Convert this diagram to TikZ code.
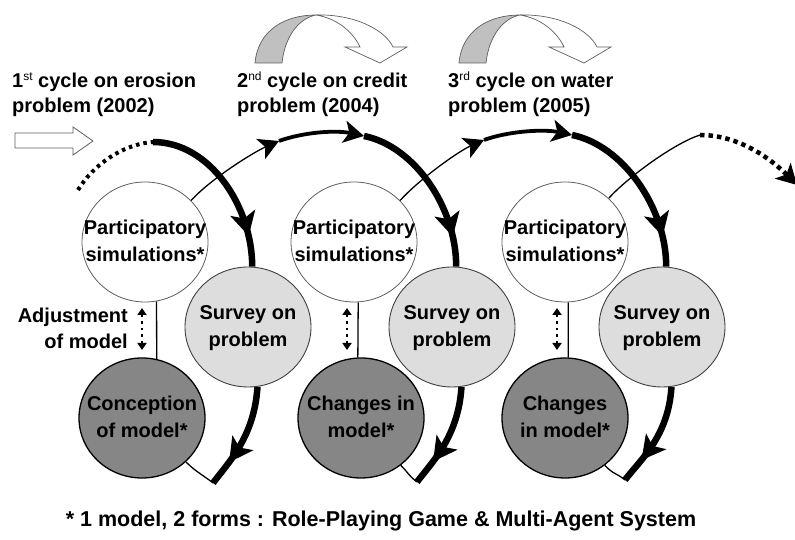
\documentclass[tikz,border=0pt]{standalone}
\usepackage{fontspec}
\setmainfont{Liberation Sans}
\usetikzlibrary{shapes.geometric,arrows.meta,decorations.markings}
\pgfdeclarelayer{bg}
\pgfsetlayers{bg,main}
\definecolor{survfill}{RGB}{221,221,221}
\definecolor{concfill}{RGB}{134,134,134}
\definecolor{curvgray}{RGB}{192,192,192}
\definecolor{edgegray}{RGB}{95,95,95}
\newcommand\cyctext[4]{%
  \node[lbl,anchor=base] (#1a) at ([yshift=7pt]#2) {#3};
  \node[lbl,anchor=base] (#1b) at ([yshift=-20pt]#2) {#4};}
\newcommand\curvarrow[1]{%
  \begin{scope}[xshift=#1]
  \fill[curvgray,draw=edgegray,line width=0.7pt] (255,477) .. controls (258,510) and (285,525) .. (316,525)
     .. controls (300,522) and (285,505) .. (282,477) -- cycle;
  \filldraw[fill=white,draw=edgegray,line width=0.7pt] (316,525) .. controls (355,526) and (385,510) .. (393,493)
     -- (407,493) -- (380,477) -- (345,493) -- (360,493) .. controls (352,510) and (335,522) .. (316,525) -- cycle;
  \end{scope}}
\tikzset{
  lbl/.style={font=\bfseries\fontsize{20}{25}\selectfont,inner sep=0pt},
  circ/.style={ellipse,minimum width=126pt,minimum height=120pt,inner sep=0pt},
  part/.style={circ,draw=edgegray,line width=0.8pt,fill=white},
  surv/.style={circ,draw=black!75,line width=0.9pt,fill=survfill},
  conc/.style={circ,draw=black,line width=1.3pt,fill=concfill},
  thinline/.style={line width=1.3pt},
  midline/.style={line width=3.8pt},
  thickline/.style={line width=6.5pt},
  mk/.style={postaction={decorate,decoration={markings,
      mark=at position #1 with {\fill (4pt,0) -- (-20pt,13pt) -- (-14pt,0) -- (-20pt,-13pt) -- cycle;}}}},
  endtip/.style={-{Stealth[length=20pt 0,width=22pt 0,inset=5pt 0]}},
  dotline/.style={line width=4pt,dash pattern=on 3.5pt off 4pt},
  dbl/.style={line width=2.6pt,dash pattern=on 2.6pt off 4pt,
      arrows={Triangle[width=9pt 0,length=7pt 0]-Triangle[width=9pt 0,length=7pt 0]}},
}
\begin{document}
\begin{tikzpicture}[x=1pt,y=1pt]
\useasboundingbox (0,0) rectangle (795,540);
% circles
\node[part] (P1) at (145,298) {};
\node[part] (P2) at (354,298) {};
\node[part] (P3) at (565,298) {};
\node[surv] (S1) at (248,213) {};
\node[surv] (S2) at (452,213) {};
\node[surv] (S3) at (662,213) {};
\node[conc] (C1) at (142,122) {};
\node[conc] (C2) at (361,122) {};
\node[conc] (C3) at (565,122) {};
\cyctext{P1t}{P1}{Participatory}{simulations*}
\cyctext{P2t}{P2}{Participatory}{simulations*}
\cyctext{P3t}{P3}{Participatory}{simulations*}
\cyctext{S1t}{S1}{Survey on}{problem}
\cyctext{S2t}{S2}{Survey on}{problem}
\cyctext{S3t}{S3}{Survey on}{problem}
\cyctext{C1t}{C1}{Conception}{of model*}
\cyctext{C2t}{C2}{Changes in}{model*}
\cyctext{C3t}{C3}{Changes}{in model*}
% coordinates
\coordinate (L0) at (78,350);
\coordinate (T1) at (153,398);
\coordinate (A2) at (279,399);
\coordinate (T2) at (364,404);
\coordinate (A3) at (484,400);
\coordinate (T3) at (572,405);
\coordinate (D4) at (700,405);
\coordinate (E4) at (797,355);
\coordinate (B1) at (213,57);
\coordinate (B2) at (417,58);
\coordinate (B3) at (625,60);
\coordinate (u1) at (142,232); \coordinate (d1) at (142,190);
\coordinate (u2) at (347,232); \coordinate (d2) at (347,190);
\coordinate (u3) at (557,232); \coordinate (d3) at (557,190);
\begin{pgfonlayer}{bg}
% cycle 1
\draw[dotline] (L0) .. controls +(15,25) and +(-30,-2) .. (T1);
\draw[thickline,mk=0.8] (T1) .. controls +(57,0) and +(0,60) .. (S1.86);
\draw[thickline,mk=0.72] (S1.-81) .. controls +(-3,-50) and +(15,20) .. (B1);
\draw[thinline] (B1) .. controls +(-10,8) and +(10,-10) .. (C1.-45);
\draw[thinline] (C1.76) -- (P1.-79);
% cycle 2
\draw[thinline,endtip] (P1.42) .. controls +(20,22) and +(-25,-11) .. (A2);
\draw[midline,endtip] (A2) .. controls +(25,9) and +(-28,6) .. (T2);
\draw[thickline,mk=0.8] (T2) .. controls +(50,-10) and +(0,60) .. (S2.86);
\draw[thickline,mk=0.72] (S2.-81) .. controls +(-3,-50) and +(15,20) .. (B2);
\draw[thinline] (B2) .. controls +(-10,8) and +(10,-10) .. (C2.-50);
\draw[thinline] (C2.93) -- (P2.-86);
% cycle 3
\draw[thinline,endtip] (P2.42) .. controls +(20,22) and +(-25,-11) .. (A3);
\draw[midline,endtip] (A3) .. controls +(25,9) and +(-28,6) .. (T3);
\draw[thickline,mk=0.8] (T3) .. controls +(50,-10) and +(0,60) .. (S3.86);
\draw[thickline,mk=0.72] (S3.-81) .. controls +(-3,-50) and +(15,20) .. (B3);
\draw[thinline] (B3) .. controls +(-10,8) and +(10,-10) .. (C3.-50);
\draw[thinline] (C3.87) -- (P3.-87);
% cycle 4 (start)
\draw[thinline] (P3.45) .. controls +(20,22) and +(-25,-8) .. (D4);
\draw[dotline,line width=4.5pt,dash pattern=on 4.5pt off 4pt,endtip] (D4) .. controls +(40,0) and +(-25,25) .. (E4);
\end{pgfonlayer}
% adjustment arrows
\draw[dbl] (d1) -- (u1);
\draw[dbl] (d2) -- (u2);
\draw[dbl] (d3) -- (u3);
\node[lbl,anchor=base east] (adj1) at (128,217) {Adjustment};
\node[lbl,anchor=base east] (adj2) at (128,191) {of model};
% entry arrow
\filldraw[fill=white,draw=edgegray,line width=0.8pt] (15,407) -- (73,407) -- (73,413) -- (93,399) -- (73,385) -- (73,392) -- (15,392) -- cycle;
% curved arrows
\curvarrow{0pt}
\curvarrow{204pt}
% cycle labels
\node[lbl,anchor=base west] (h1a) at (12,452) {1\raisebox{7pt}{\fontsize{12}{12}\selectfont\mdseries st} cycle on erosion};
\node[lbl,anchor=base west] (h1b) at (12,427) {problem (2002)};
\node[lbl,anchor=base west] (h2a) at (237,452) {2\raisebox{7pt}{\fontsize{12}{12}\selectfont\mdseries nd} cycle on credit};
\node[lbl,anchor=base west] (h2b) at (237,427) {problem (2004)};
\node[lbl,anchor=base west] (h3a) at (448,452) {3\raisebox{7pt}{\fontsize{12}{12}\selectfont\mdseries rd} cycle on water};
\node[lbl,anchor=base west] (h3b) at (448,427) {problem (2005)};
% footnote
\node[lbl,font=\bfseries\fontsize{21.5}{25}\selectfont,anchor=base] (foot) at (381,13) {* 1 model, 2 forms : Role-Playing Game \& Multi-Agent System};
\end{tikzpicture}
\end{document}
